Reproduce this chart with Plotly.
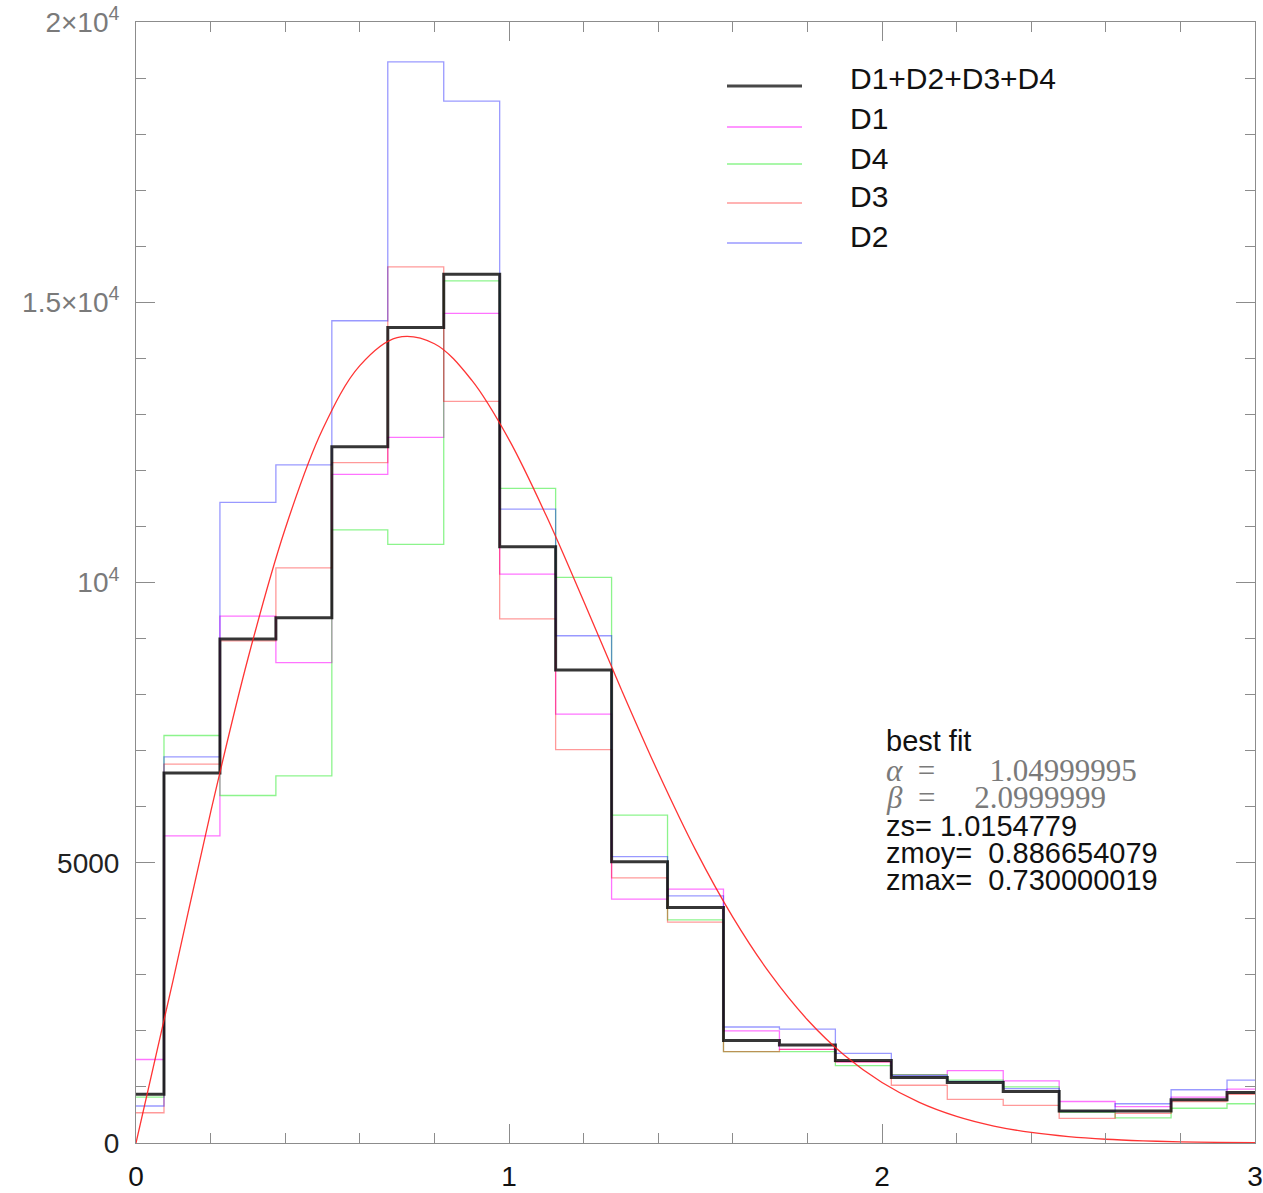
import plotly.graph_objects as go

# ---------------- data ----------------
bin_centres = [0.0, 0.15, 0.30, 0.45, 0.60, 0.75, 0.90, 1.05, 1.20, 1.35, 1.50,
               1.65, 1.80, 1.95, 2.10, 2.25, 2.40, 2.55, 2.70, 2.85, 3.00]
bin_width = 0.15

d1 = [1490, 5480, 9400, 8570, 11930, 12590, 14800, 10150, 7650, 4350, 4530,
      2000, 1670, 1450, 1220, 1290, 1110, 740, 650, 820, 960]
d2 = [660, 6890, 11430, 12100, 14670, 19290, 18590, 11310, 9050, 5110, 4410,
      2070, 2030, 1600, 1200, 1100, 970, 570, 700, 950, 1120]
d3 = [540, 6760, 8960, 10260, 12140, 15630, 13230, 9350, 7020, 4730, 3940,
      1630, 1670, 1450, 1030, 780, 670, 440, 530, 740, 870]
d4 = [820, 7270, 6200, 6550, 10940, 10680, 15380, 11680, 10090, 5850, 3980,
      1630, 1630, 1380, 1220, 1120, 1000, 550, 450, 620, 700]
d_all = [870, 6600, 8990, 9370, 12420, 14550, 15500, 10640, 8440, 5020, 4200,
         1830, 1750, 1470, 1170, 1080, 920, 570, 570, 770, 900]

fit_z = [0.0, 0.1, 0.2, 0.3, 0.4, 0.5, 0.6, 0.7, 0.8, 0.9, 1.0, 1.1, 1.2, 1.3,
         1.4, 1.5, 1.6, 1.7, 1.8, 1.9, 2.0, 2.1, 2.2, 2.3, 2.4, 2.5, 2.6, 2.7,
         2.8, 2.9, 3.0]
fit_v = [0, 2920, 5900, 8640, 10960, 12730, 13870, 14370, 14260, 13610, 12550,
         11190, 9670, 8110, 6610, 5230, 4030, 3020, 2200, 1560, 1080, 725, 475,
         303, 188, 114, 67, 39, 21, 11, 6]

fit_text = ["best fit",
            "<i>\u03b1</i>&nbsp;&nbsp;=&nbsp;&nbsp;&nbsp;&nbsp;&nbsp;&nbsp;&nbsp;1.04999995",
            "<i>\u03b2</i>&nbsp;&nbsp;=&nbsp;&nbsp;&nbsp;&nbsp;&nbsp;2.0999999",
            "zs=&nbsp;1.0154779",
            "zmoy=&nbsp;&nbsp;0.886654079",
            "zmax=&nbsp;&nbsp;0.730000019"]

x_ticks = [0, 1, 2, 3]
y_ticks = [0, 5000, 10000, 15000, 20000]
y_ticktext = ["0", "5000",
              "<span style='color:#7a7a7a'>10<sup>4</sup></span>",
              "<span style='color:#7a7a7a'>1.5\u00d710<sup>4</sup></span>",
              "<span style='color:#7a7a7a'>2\u00d710<sup>4</sup></span>"]

XMIN, XMAX = 0.0, 3.0


def step_xy(vals):
    xs, ys = [], []
    for c, v in zip(bin_centres, vals):
        xs.append(max(XMIN, c - bin_width / 2))
        ys.append(v)
    xs.append(XMAX)
    ys.append(vals[-1])
    return xs, ys


series = [
    ("D1", d1, "rgba(255,0,255,0.55)"),
    ("D4", d4, "rgba(0,230,0,0.45)"),
    ("D3", d3, "rgba(255,0,0,0.40)"),
    ("D2", d2, "rgba(0,0,255,0.40)"),
]

fig = go.Figure()
for name, vals, col in series:
    xs, ys = step_xy(vals)
    fig.add_trace(go.Scatter(x=xs, y=ys, mode="lines", line_shape="hv",
                             line=dict(color=col, width=1.3), name=name,
                             showlegend=False))
xs, ys = step_xy(d_all)
fig.add_trace(go.Scatter(x=xs, y=ys, mode="lines", line_shape="hv",
                         line=dict(color="rgba(10,10,10,0.82)", width=3),
                         name="D1+D2+D3+D4", showlegend=False))
fig.add_trace(go.Scatter(x=fit_z, y=fit_v, mode="lines", line_shape="spline",
                         line=dict(color="rgba(255,30,30,0.9)", width=1.3),
                         name="fit", showlegend=False))

# ---------------- manual legend ----------------
W, H = 1263, 1193
L, R, T, B = 136, 8, 22, 50
pw, ph = W - L - R, H - T - B


def px(xp):
    return (xp - L) / pw


def py(yp):
    return (H - B - yp) / ph


legend_items = [
    ("D1+D2+D3+D4", "rgba(40,40,40,0.85)", 3, 86, 79),
    ("D1", "rgba(255,0,255,0.55)", 1.3, 127, 119),
    ("D4", "rgba(0,230,0,0.45)", 1.3, 164, 158),
    ("D3", "rgba(255,0,0,0.40)", 1.3, 203, 197),
    ("D2", "rgba(0,0,255,0.40)", 1.3, 243, 237),
]
shapes = []
annotations = []
for label, col, w, ly, ty in legend_items:
    shapes.append(dict(type="line", xref="paper", yref="paper",
                       x0=px(727), x1=px(802), y0=py(ly), y1=py(ly),
                       line=dict(color=col, width=w)))
    annotations.append(dict(text=label, xref="paper", yref="paper",
                            x=px(848), y=py(ty), xanchor="left", yanchor="middle",
                            showarrow=False,
                            font=dict(family="Liberation Sans", size=30, color="#111")))

# ---------------- best fit text ----------------
rows_y = [741, 770, 798, 826, 853, 880]
dark = dict(family="Liberation Sans", size=29, color="#111")
grey = dict(family="Liberation Serif", size=31, color="#7a7a7a")
for i, txt in enumerate(fit_text):
    annotations.append(dict(text=txt, xref="paper", yref="paper", x=px(884),
                            y=py(rows_y[i]), xanchor="left", yanchor="middle",
                            showarrow=False, font=grey if i in (1, 2) else dark))

axis_common = dict(showline=True, linecolor="#8c8c8c", linewidth=1, mirror="ticks",
                   ticks="inside", ticklen=19, tickcolor="#8c8c8c", tickwidth=1,
                   showgrid=False, zeroline=False, automargin=False)

fig.update_layout(
    width=W, height=H,
    margin=dict(l=L, r=R, t=T, b=B),
    paper_bgcolor="white", plot_bgcolor="white",
    showlegend=False,
    shapes=shapes, annotations=annotations,
    xaxis=dict(range=[XMIN, XMAX], tickvals=x_ticks, ticktext=[str(v) for v in x_ticks],
               tickfont=dict(family="Liberation Sans", size=28, color="#111"),
               ticklabelstandoff=8,
               minor=dict(dtick=0.2, tick0=0, ticks="inside", ticklen=10,
                          tickcolor="#8c8c8c", tickwidth=1),
               **axis_common),
    yaxis=dict(range=[0, 20000], tickvals=y_ticks, ticktext=y_ticktext,
               tickfont=dict(family="Liberation Sans", size=28, color="#222"),
               ticklabelstandoff=10,
               minor=dict(dtick=1000, tick0=0, ticks="inside", ticklen=10,
                          tickcolor="#8c8c8c", tickwidth=1),
               **axis_common),
)

fig.write_html("out.html")
